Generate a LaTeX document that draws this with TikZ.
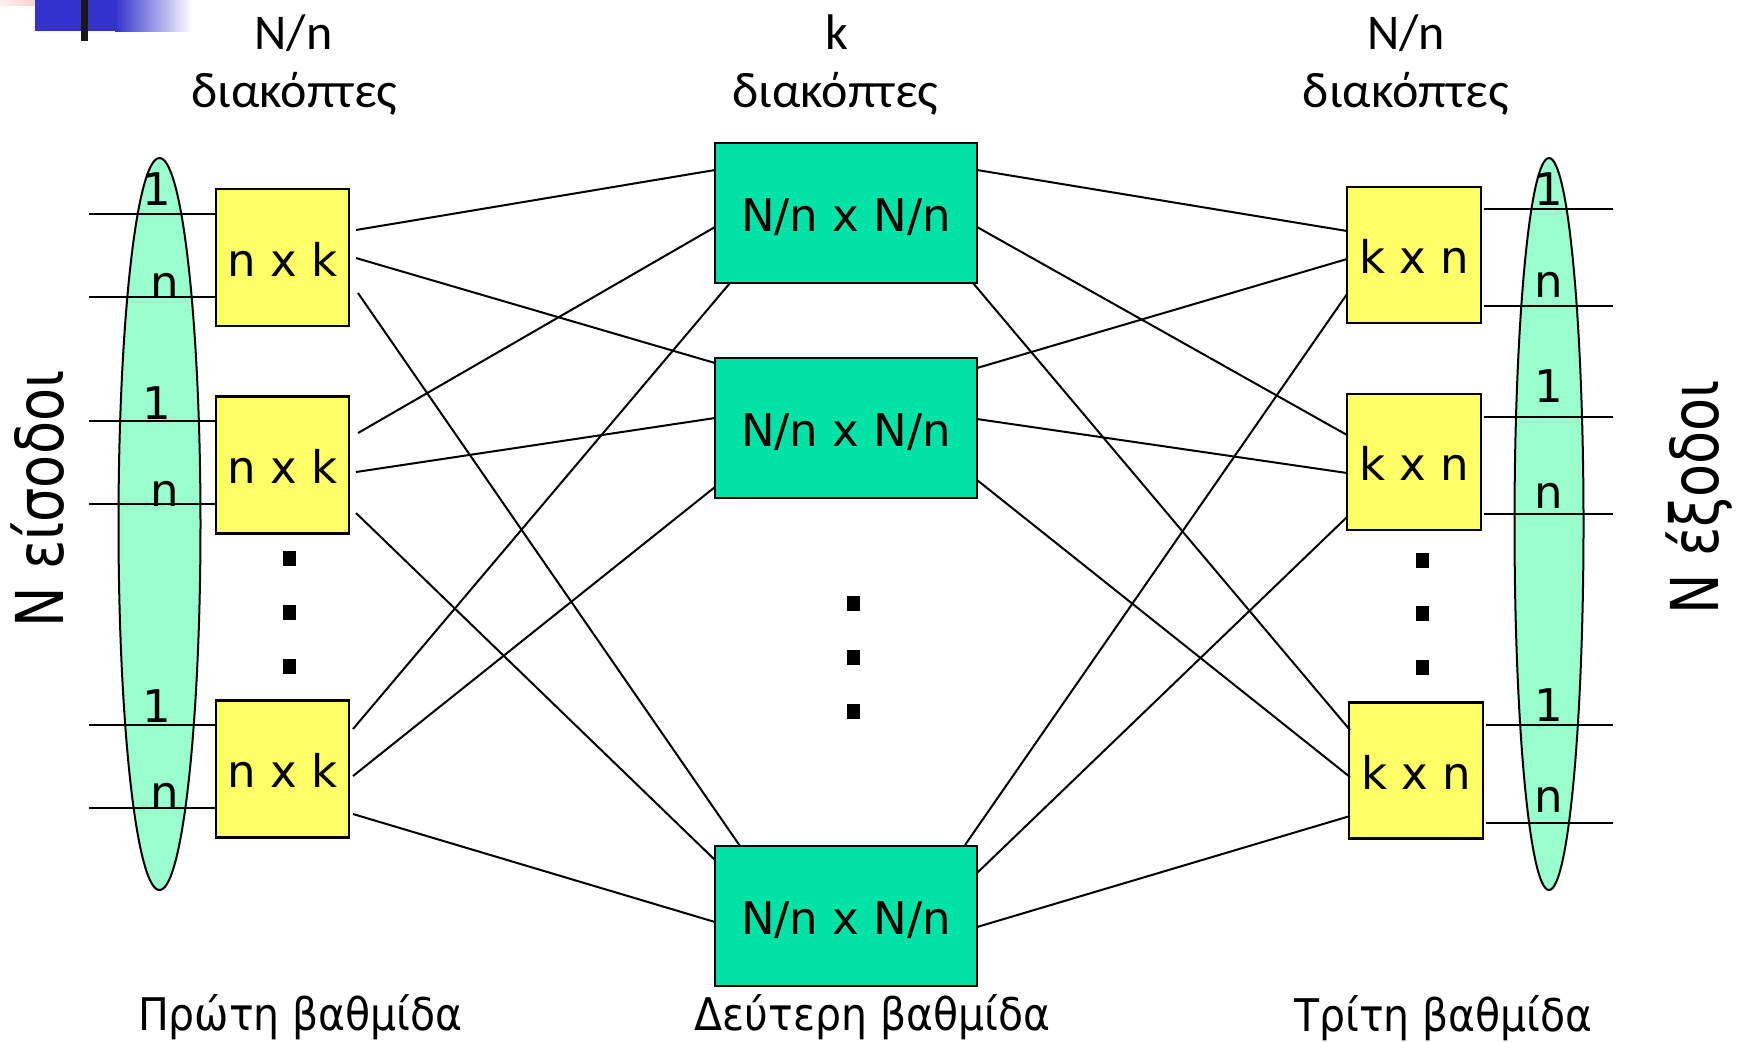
\documentclass[tikz,border=0pt]{standalone}
\usepackage{fontspec}
\setmainfont{DejaVu Sans}
\newfontfamily\hdrfont{Carlito}
\newfontfamily\stagefont[FakeStretch=0.91]{DejaVu Sans}
\newfontfamily\sidefont[FakeStretch=0.82]{DejaVu Sans}
\usetikzlibrary{calc}
\definecolor{boxyellow}{HTML}{FFFF66}
\definecolor{midgreen}{HTML}{00E3A6}
\definecolor{mint}{HTML}{99FFCC}
\definecolor{logoblue}{HTML}{3333CC}
\definecolor{logopink}{HTML}{FFB4B4}
\begin{document}
\begin{tikzpicture}[x=0.5pt,y=-0.5pt,
  sw/.style={draw=black, line width=1.2pt, inner sep=0pt, outer sep=0pt,
    font=\fontsize{22.5}{27}\selectfont, text height=18.5pt, text depth=0pt},
  firstsw/.style={sw, fill=boxyellow, minimum width=66.5pt, minimum height=68.5pt},
  midsw/.style={sw, fill=midgreen, minimum width=131pt, minimum height=70pt},
  thirdsw/.style={sw, fill=boxyellow, minimum width=67pt, minimum height=68pt},
  link/.style={line width=1pt},
  port/.style={line width=1pt},
  bundle/.style={draw=black, fill=mint, line width=1pt},
  lbl/.style={anchor=base, inner sep=0pt, font=\fontsize{22.5}{27}\selectfont},
  hdr/.style={anchor=base, inner sep=0pt, font=\hdrfont\fontsize{25}{30}\selectfont},
  stage/.style={anchor=base, inner sep=0pt, font=\stagefont\fontsize{22.5}{27}\selectfont},
  side/.style={anchor=base west, inner sep=0pt, rotate=90, font=\sidefont\fontsize{33}{40}\selectfont},
  dotsq/.style={fill=black, inner sep=0pt, outer sep=0pt, minimum width=6.5pt, minimum height=7.5pt},
]
\fill[white] (0,0) rectangle (1738,1041);
\useasboundingbox (0,0) rectangle (1738,1041);

% logo
\fill[left color=logopink!20, right color=logopink] (0,0) rectangle (66,5);
\fill[logoblue] (35,0) rectangle (115,31);
\fill[left color=logoblue, right color=white] (115,0) rectangle (192,31);
\fill[black!90] (81,0) rectangle (88,41);

% bundles
\draw[bundle] (159.5,524) ellipse [x radius=20.5pt, y radius=183pt];
\draw[bundle] (1549,524) ellipse [x radius=17.25pt, y radius=183pt];

% switches
\node[firstsw] (L1) at (282.5,257.5) {n x k};
\node[firstsw] (L2) at (282.5,465) {n x k};
\node[firstsw] (L3) at (282.5,769) {n x k};
\node[midsw] (M1) at (846,213) {N/n x N/n};
\node[midsw] (M2) at (846,428) {N/n x N/n};
\node[midsw] (M3) at (846,916) {N/n x N/n};
\node[thirdsw] (R1) at (1414,255) {k x n};
\node[thirdsw] (R2) at (1414,462) {k x n};
\node[thirdsw] (R3) at (1416,770.5) {k x n};

% inputs
\coordinate (i1) at (89,214);  \coordinate (i2) at (89,297);
\coordinate (i3) at (89,421);  \coordinate (i4) at (89,504);
\coordinate (i5) at (89,725);  \coordinate (i6) at (89,808);
\draw[port] (i1) -- (i1 -| L1.west);
\draw[port] (i2) -- (i2 -| L1.west);
\draw[port] (i3) -- (i3 -| L2.west);
\draw[port] (i4) -- (i4 -| L2.west);
\draw[port] (i5) -- (i5 -| L3.west);
\draw[port] (i6) -- (i6 -| L3.west);

% outputs
\coordinate (o1) at (1613,209);  \coordinate (o2) at (1613,306);
\coordinate (o3) at (1613,417);  \coordinate (o4) at (1613,514);
\coordinate (o5) at (1613,725);  \coordinate (o6) at (1613,823);
\draw[port] ($(o1 -| R1.east)+(3,0)$) -- (o1);
\draw[port] ($(o2 -| R1.east)+(3,0)$) -- (o2);
\draw[port] ($(o3 -| R2.east)+(3,0)$) -- (o3);
\draw[port] ($(o4 -| R2.east)+(3,0)$) -- (o4);
\draw[port] ($(o5 -| R3.east)+(3,0)$) -- (o5);
\draw[port] ($(o6 -| R3.east)+(3,0)$) -- (o6);

% first stage -> second stage
\draw[link] ($(L1.east)+(7,-27.5)$) -- ($(M1.west)+(0,-43)$);
\draw[link] ($(L1.east)+(7,0.5)$) -- ($(M2.west)+(0,-65)$);
\draw[link] ($(L1.east)+(9,35.5)$) -- ($(M3.north west)+(25,0)$);
\draw[link] ($(L2.east)+(9,-32)$) -- ($(M1.west)+(0,14)$);
\draw[link] ($(L2.east)+(7,7)$) -- ($(M2.west)+(0,-10)$);
\draw[link] ($(L2.east)+(7,48)$) -- ($(M3.west)+(0,-56)$);
\draw[link] ($(L3.east)+(4,-40)$) -- ($(M1.south west)+(15,0)$);
\draw[link] ($(L3.east)+(4,7)$) -- ($(M2.west)+(0,59)$);
\draw[link] ($(L3.east)+(4,45)$) -- ($(M3.west)+(0,6)$);

% second stage -> third stage
\draw[link] ($(M1.east)+(0,-43)$) -- ($(R1.west)+(0,-24)$);
\draw[link] ($(M1.east)+(0,14)$) -- ($(R2.west)+(0,-27)$);
\draw[link] ($(M1.south east)+(-4,0)$) -- ($(R3.west)+(1,-40.5)$);
\draw[link] ($(M2.east)+(0,-60)$) -- ($(R1.west)+(0,4)$);
\draw[link] ($(M2.east)+(0,-9)$) -- ($(R2.west)+(0,11)$);
\draw[link] ($(M2.east)+(0,52)$) -- ($(R3.west)+(1,6.5)$);
\draw[link] ($(M3.north east)+(-12,-1)$) -- ($(R1.west)+(0,39)$);
\draw[link] ($(M3.east)+(0,-43)$) -- ($(R2.west)+(0,55)$);
\draw[link] ($(M3.east)+(0,11)$) -- ($(R3.west)+(1,45.5)$);

% bundle labels
\node[lbl] (a1) at (157,205) {1};  \node[lbl] (a2) at (165,298) {n};
\node[lbl] (a3) at (157,419) {1};  \node[lbl] (a4) at (165,506) {n};
\node[lbl] (a5) at (157,722) {1};  \node[lbl] (a6) at (165,808) {n};
\node[lbl] (b1) at (1549,205) {1}; \node[lbl] (b2) at (1549,297) {n};
\node[lbl] (b3) at (1549,402) {1}; \node[lbl] (b4) at (1549,508) {n};
\node[lbl] (b5) at (1549,721) {1}; \node[lbl] (b6) at (1549,812) {n};

% ellipsis dots
\node[dotsq] (dl1) at (289.5,558) {};
\node[dotsq] (dl2) at (289.5,612) {};
\node[dotsq] (dl3) at (289.5,666) {};
\node[dotsq] (dm1) at (853.5,603.5) {};
\node[dotsq] (dm2) at (853.5,657.5) {};
\node[dotsq] (dm3) at (853.5,711.5) {};
\node[dotsq] (dr1) at (1422,560) {};
\node[dotsq] (dr2) at (1422,613) {};
\node[dotsq] (dr3) at (1422,667) {};

% headers
\node[hdr] (h1a) at (293.5,49) {N/n};
\node[hdr] (h1b) at (294.5,107) {διακόπτες};
\node[hdr] (h2a) at (837,49) {k};
\node[hdr] (h2b) at (835.5,107) {διακόπτες};
\node[hdr] (h3a) at (1406,49) {N/n};
\node[hdr] (h3b) at (1406,107) {διακόπτες};

% stage names
\node[stage] (s1) at (300.5,1030) {Πρώτη βαθμίδα};
\node[stage] (s2) at (872.5,1030) {Δεύτερη βαθμίδα};
\node[stage] (s3) at (1443.5,1031) {Τρίτη βαθμίδα};

% side labels
\node[side] (sin) at (63,628) {N είσοδοι};
\node[side] (sout) at (1718,615) {N έξοδοι};
\end{tikzpicture}
\end{document}
